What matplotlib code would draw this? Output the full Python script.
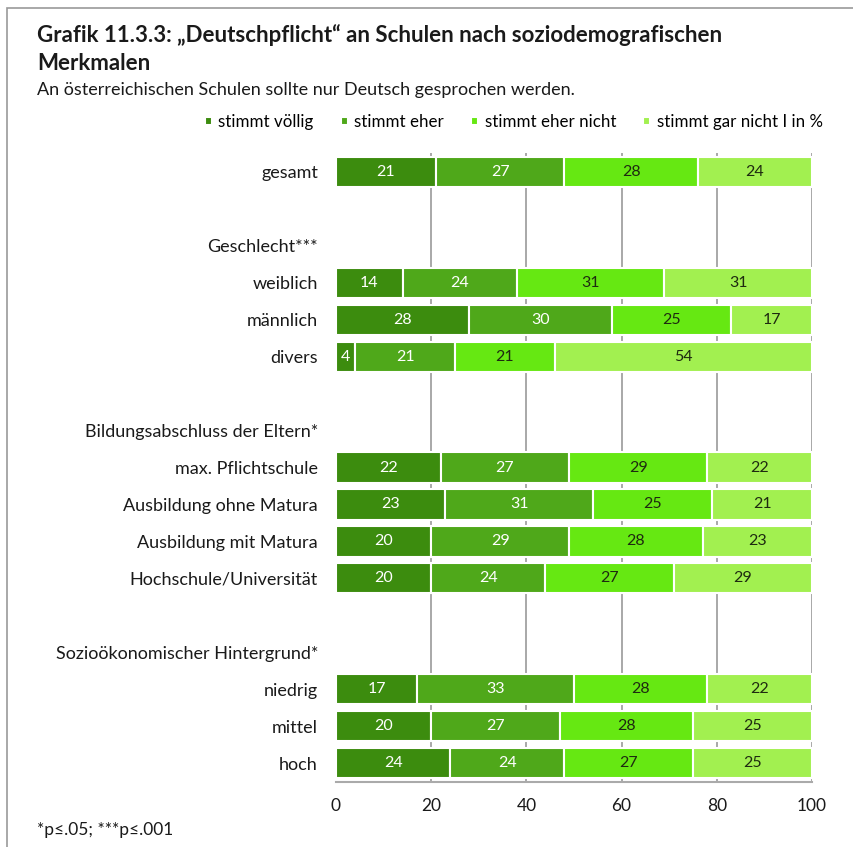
import numpy as np
import matplotlib.pyplot as plt
from matplotlib.patches import Rectangle

plt.rcParams['font.family'] = ['Lato', 'DejaVu Sans']

rows = ['gesamt', '', 'Geschlecht***', 'weiblich', 'männlich', 'divers', '',
        'Bildungsabschluss der Eltern*', 'max. Pflichtschule', 'Ausbildung ohne Matura',
        'Ausbildung mit Matura', 'Hochschule/Universität', '',
        'Sozioökonomischer Hintergrund*', 'niedrig', 'mittel', 'hoch']

# None = no bar (blank or group header row)
voellig     = [21, None, None, 14, 28, 4, None, None, 22, 23, 20, 20, None, None, 17, 20, 24]
eher        = [27, None, None, 24, 30, 21, None, None, 27, 31, 29, 24, None, None, 33, 27, 24]
eher_nicht  = [28, None, None, 31, 25, 21, None, None, 29, 25, 28, 27, None, None, 28, 28, 27]
gar_nicht   = [24, None, None, 31, 17, 54, None, None, 22, 21, 23, 29, None, None, 22, 25, 25]

series = [voellig, eher, eher_nicht, gar_nicht]
names = ['stimmt völlig', 'stimmt eher', 'stimmt eher nicht', 'stimmt gar nicht I in %']
colors = ['#3c8c0e', '#4fa81a', '#66e812', '#a2f050']
txtcol = ['white', 'white', '#1e2a10', '#1e2a10']
ticks = [0, 20, 40, 60, 80, 100]

fig = plt.figure(figsize=(8.54, 8.47), dpi=100)
ax = fig.add_axes([336/854, 1-781.5/847, 476/854, 628/847])

y = np.arange(len(rows))
left = np.zeros(len(rows))
for vals, col, tc, nm in zip(series, colors, txtcol, names):
    v = np.array([np.nan if x is None else x for x in vals], dtype=float)
    ax.barh(y, np.nan_to_num(v), left=left, height=0.82, color=col,
            edgecolor='white', linewidth=1.5, label=nm, zorder=3)
    for yi, (val, l) in enumerate(zip(v, left)):
        if not np.isnan(val):
            ax.text(l + val/2, yi, f'{int(val)}', ha='center', va='center',
                    color=tc, fontsize=11.5, zorder=4)
    left = left + np.nan_to_num(v)

# grid lines (none at 0)
for t in ticks[1:]:
    ax.axvline(t, color='#999999', linewidth=1.2, zorder=0)

ax.set_xlim(0, 100)
ax.set_ylim(len(rows)-0.5, -0.5)
ax.set_xticks(ticks)
ax.set_yticks(y)
ax.set_yticklabels(rows, fontsize=13, color='#1a1a1a')
ax.tick_params(axis='y', length=0, pad=13)
ax.tick_params(axis='x', length=0, pad=12, labelsize=12.5, labelcolor='#1a1a1a')
for s in ['top', 'right', 'left']:
    ax.spines[s].set_visible(False)
ax.spines['bottom'].set_color('#aaaaaa')
ax.spines['bottom'].set_linewidth(1.5)

fig.text(37/854, 1-35/847, 'Grafik 11.3.3: „Deutschpflicht“ an Schulen nach soziodemografischen',
         fontsize=16, fontweight='bold', va='center', color='#1a1a1a')
fig.text(37/854, 1-63/847, 'Merkmalen', fontsize=16, fontweight='bold', va='center', color='#1a1a1a')
fig.text(37/854, 1-90/847, 'An österreichischen Schulen sollte nur Deutsch gesprochen werden.',
         fontsize=13, va='center', color='#1a1a1a')
fig.text(37/854, 1-830/847, '*p≤.05; ***p≤.001', fontsize=12.5, va='center', color='#1a1a1a')

fig.legend(loc='center right', bbox_to_anchor=(823/854, 1-122/847), ncol=4, frameon=False,
           handlelength=0.4, handleheight=0.4, handletextpad=0.4, columnspacing=1.6,
           fontsize=12.2, borderaxespad=0, borderpad=0)

fig.patches.append(Rectangle((7/854, -0.1), 1.2, 1.1 - 8/847, transform=fig.transFigure,
                             fill=False, edgecolor='#999999', linewidth=1.2))

fig.savefig('out.png', dpi=100)
